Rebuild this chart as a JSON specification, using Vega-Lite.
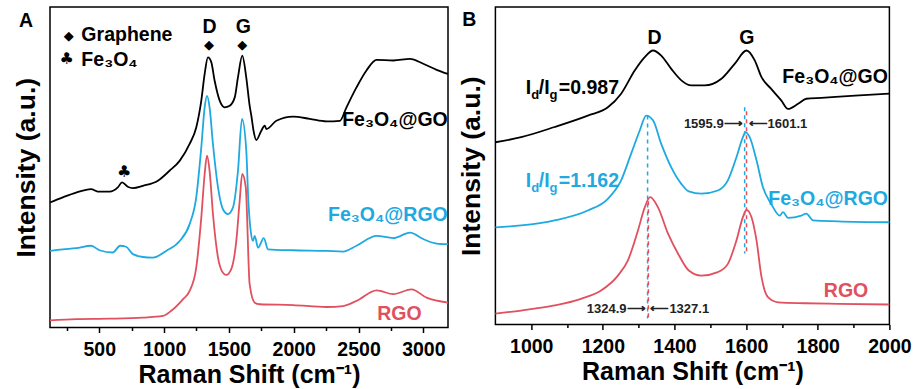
{
  "$schema": "https://vega.github.io/schema/vega-lite/v6.json",
  "background": "white",
  "padding": {"left": 12, "top": 6, "right": 5, "bottom": 0},
  "config": {
    "view": {"stroke": "#000", "strokeWidth": 1.5},
    "font": "Liberation Sans",
    "axis": {"grid": false, "domain": false, "labelFont": "Liberation Sans", "labelFontWeight": "bold", "labelFontSize": 19.5, "labelColor": "#000", "titleFont": "Liberation Sans", "titleFontWeight": "bold", "titleFontSize": 25, "titleColor": "#000", "tickColor": "#000", "tickWidth": 1.5},
    "axisX": {"tickSize": 5, "labelPadding": 8, "titlePadding": 3, "labelFlush": false, "labelOverlap": false},
    "axisY": {"ticks": false, "labels": false, "titlePadding": 9.5, "titleFontSize": 26.5},
    "text": {"font": "Liberation Sans", "fontWeight": "bold", "fontSize": 19.5}
  },
  "datasets": {
    "specA": [
      {"x":120,"y":39.0,"s":"Fe3O4@GO"},{"x":218,"y":40.6,"s":"Fe3O4@GO"},{"x":321,"y":42.1,"s":"Fe3O4@GO"},{"x":437,"y":43.2,"s":"Fe3O4@GO"},{"x":488,"y":42.4,"s":"Fe3O4@GO"},{"x":579,"y":42.4,"s":"Fe3O4@GO"},{"x":643,"y":43.7,"s":"Fe3O4@GO"},{"x":676,"y":45.3,"s":"Fe3O4@GO"},{"x":720,"y":43.9,"s":"Fe3O4@GO"},{"x":759,"y":43.5,"s":"Fe3O4@GO"},{"x":836,"y":44.2,"s":"Fe3O4@GO"},{"x":952,"y":45.8,"s":"Fe3O4@GO"},{"x":1042,"y":48.9,"s":"Fe3O4@GO"},{"x":1120,"y":52.0,"s":"Fe3O4@GO"},{"x":1197,"y":57.3,"s":"Fe3O4@GO"},{"x":1248,"y":62.4,"s":"Fe3O4@GO"},{"x":1287,"y":70.8,"s":"Fe3O4@GO"},{"x":1313,"y":79.1,"s":"Fe3O4@GO"},{"x":1338,"y":84.3,"s":"Fe3O4@GO"},{"x":1364,"y":82.8,"s":"Fe3O4@GO"},{"x":1390,"y":77.0,"s":"Fe3O4@GO"},{"x":1429,"y":70.8,"s":"Fe3O4@GO"},{"x":1467,"y":68.7,"s":"Fe3O4@GO"},{"x":1506,"y":69.2,"s":"Fe3O4@GO"},{"x":1545,"y":71.8,"s":"Fe3O4@GO"},{"x":1570,"y":78.1,"s":"Fe3O4@GO"},{"x":1603,"y":84.8,"s":"Fe3O4@GO"},{"x":1634,"y":78.0,"s":"Fe3O4@GO"},{"x":1660,"y":69.2,"s":"Fe3O4@GO"},{"x":1673,"y":66.1,"s":"Fe3O4@GO"},{"x":1690,"y":61.4,"s":"Fe3O4@GO"},{"x":1711,"y":58.5,"s":"Fe3O4@GO"},{"x":1750,"y":61.4,"s":"Fe3O4@GO"},{"x":1776,"y":63.0,"s":"Fe3O4@GO"},{"x":1789,"y":61.9,"s":"Fe3O4@GO"},{"x":1866,"y":64.5,"s":"Fe3O4@GO"},{"x":1995,"y":65.8,"s":"Fe3O4@GO"},{"x":2124,"y":65.1,"s":"Fe3O4@GO"},{"x":2252,"y":64.3,"s":"Fe3O4@GO"},{"x":2356,"y":64.5,"s":"Fe3O4@GO"},{"x":2407,"y":68.7,"s":"Fe3O4@GO"},{"x":2484,"y":74.9,"s":"Fe3O4@GO"},{"x":2561,"y":80.2,"s":"Fe3O4@GO"},{"x":2639,"y":83.5,"s":"Fe3O4@GO"},{"x":2768,"y":83.3,"s":"Fe3O4@GO"},{"x":2897,"y":83.8,"s":"Fe3O4@GO"},{"x":2999,"y":82.3,"s":"Fe3O4@GO"},{"x":3102,"y":80.4,"s":"Fe3O4@GO"},{"x":3190,"y":79.1,"s":"Fe3O4@GO"},
      {"x":120,"y":23.9,"s":"Fe3O4@RGO"},{"x":218,"y":24.4,"s":"Fe3O4@RGO"},{"x":321,"y":24.75,"s":"Fe3O4@RGO"},{"x":437,"y":25.5,"s":"Fe3O4@RGO"},{"x":502,"y":24.1,"s":"Fe3O4@RGO"},{"x":604,"y":23.4,"s":"Fe3O4@RGO"},{"x":661,"y":25.5,"s":"Fe3O4@RGO"},{"x":707,"y":25.2,"s":"Fe3O4@RGO"},{"x":759,"y":22.9,"s":"Fe3O4@RGO"},{"x":836,"y":22.0,"s":"Fe3O4@RGO"},{"x":913,"y":21.8,"s":"Fe3O4@RGO"},{"x":1016,"y":23.9,"s":"Fe3O4@RGO"},{"x":1120,"y":27.0,"s":"Fe3O4@RGO"},{"x":1197,"y":32.25,"s":"Fe3O4@RGO"},{"x":1248,"y":40.6,"s":"Fe3O4@RGO"},{"x":1287,"y":56.2,"s":"Fe3O4@RGO"},{"x":1313,"y":68.7,"s":"Fe3O4@RGO"},{"x":1331,"y":72.3,"s":"Fe3O4@RGO"},{"x":1351,"y":68.7,"s":"Fe3O4@RGO"},{"x":1377,"y":57.25,"s":"Fe3O4@RGO"},{"x":1416,"y":43.7,"s":"Fe3O4@RGO"},{"x":1454,"y":36.9,"s":"Fe3O4@RGO"},{"x":1493,"y":35.4,"s":"Fe3O4@RGO"},{"x":1531,"y":37.4,"s":"Fe3O4@RGO"},{"x":1570,"y":48.9,"s":"Fe3O4@RGO"},{"x":1601,"y":65.1,"s":"Fe3O4@RGO"},{"x":1634,"y":55.2,"s":"Fe3O4@RGO"},{"x":1650,"y":39.5,"s":"Fe3O4@RGO"},{"x":1670,"y":29.5,"s":"Fe3O4@RGO"},{"x":1686,"y":27.0,"s":"Fe3O4@RGO"},{"x":1699,"y":28.6,"s":"Fe3O4@RGO"},{"x":1725,"y":24.9,"s":"Fe3O4@RGO"},{"x":1769,"y":27.9,"s":"Fe3O4@RGO"},{"x":1802,"y":24.4,"s":"Fe3O4@RGO"},{"x":1995,"y":24.1,"s":"Fe3O4@RGO"},{"x":2252,"y":23.9,"s":"Fe3O4@RGO"},{"x":2381,"y":23.7,"s":"Fe3O4@RGO"},{"x":2484,"y":25.5,"s":"Fe3O4@RGO"},{"x":2639,"y":28.6,"s":"Fe3O4@RGO"},{"x":2768,"y":27.9,"s":"Fe3O4@RGO"},{"x":2897,"y":29.6,"s":"Fe3O4@RGO"},{"x":2999,"y":27.6,"s":"Fe3O4@RGO"},{"x":3102,"y":26.2,"s":"Fe3O4@RGO"},{"x":3190,"y":26.0,"s":"Fe3O4@RGO"},
      {"x":120,"y":2.25,"s":"RGO"},{"x":321,"y":2.6,"s":"RGO"},{"x":579,"y":2.75,"s":"RGO"},{"x":836,"y":3.1,"s":"RGO"},{"x":991,"y":3.6,"s":"RGO"},{"x":1055,"y":5.2,"s":"RGO"},{"x":1145,"y":8.8,"s":"RGO"},{"x":1197,"y":11.4,"s":"RGO"},{"x":1248,"y":18.7,"s":"RGO"},{"x":1287,"y":34.3,"s":"RGO"},{"x":1313,"y":47.9,"s":"RGO"},{"x":1331,"y":53.6,"s":"RGO"},{"x":1351,"y":48.9,"s":"RGO"},{"x":1377,"y":35.4,"s":"RGO"},{"x":1416,"y":21.8,"s":"RGO"},{"x":1454,"y":17.1,"s":"RGO"},{"x":1480,"y":16.4,"s":"RGO"},{"x":1518,"y":18.2,"s":"RGO"},{"x":1557,"y":27.0,"s":"RGO"},{"x":1583,"y":39.5,"s":"RGO"},{"x":1603,"y":47.9,"s":"RGO"},{"x":1630,"y":43.7,"s":"RGO"},{"x":1660,"y":13.5,"s":"RGO"},{"x":1699,"y":7.75,"s":"RGO"},{"x":1738,"y":7.25,"s":"RGO"},{"x":1995,"y":7.0,"s":"RGO"},{"x":2252,"y":6.4,"s":"RGO"},{"x":2381,"y":6.7,"s":"RGO"},{"x":2484,"y":8.3,"s":"RGO"},{"x":2639,"y":11.6,"s":"RGO"},{"x":2768,"y":10.4,"s":"RGO"},{"x":2909,"y":11.9,"s":"RGO"},{"x":3025,"y":9.3,"s":"RGO"},{"x":3190,"y":7.75,"s":"RGO"}
    ],
    "specB": [
      {"x":900,"y":57.4,"s":"Fe3O4@GO"},{"x":972,"y":59.0,"s":"Fe3O4@GO"},{"x":1065,"y":62.2,"s":"Fe3O4@GO"},{"x":1158,"y":65.8,"s":"Fe3O4@GO"},{"x":1214,"y":68.4,"s":"Fe3O4@GO"},{"x":1251,"y":72.7,"s":"Fe3O4@GO"},{"x":1289,"y":80.0,"s":"Fe3O4@GO"},{"x":1317,"y":84.2,"s":"Fe3O4@GO"},{"x":1340,"y":86.3,"s":"Fe3O4@GO"},{"x":1363,"y":84.7,"s":"Fe3O4@GO"},{"x":1391,"y":80.5,"s":"Fe3O4@GO"},{"x":1419,"y":76.9,"s":"Fe3O4@GO"},{"x":1447,"y":75.3,"s":"Fe3O4@GO"},{"x":1484,"y":75.3,"s":"Fe3O4@GO"},{"x":1531,"y":77.4,"s":"Fe3O4@GO"},{"x":1568,"y":82.1,"s":"Fe3O4@GO"},{"x":1601,"y":86.3,"s":"Fe3O4@GO"},{"x":1624,"y":83.2,"s":"Fe3O4@GO"},{"x":1643,"y":77.9,"s":"Fe3O4@GO"},{"x":1670,"y":74.2,"s":"Fe3O4@GO"},{"x":1698,"y":70.6,"s":"Fe3O4@GO"},{"x":1717,"y":67.9,"s":"Fe3O4@GO"},{"x":1745,"y":69.5,"s":"Fe3O4@GO"},{"x":1768,"y":71.1,"s":"Fe3O4@GO"},{"x":1810,"y":71.4,"s":"Fe3O4@GO"},{"x":1904,"y":72.1,"s":"Fe3O4@GO"},{"x":2000,"y":72.7,"s":"Fe3O4@GO"},
      {"x":900,"y":30.6,"s":"Fe3O4@RGO"},{"x":972,"y":31.2,"s":"Fe3O4@RGO"},{"x":1065,"y":32.8,"s":"Fe3O4@RGO"},{"x":1158,"y":35.9,"s":"Fe3O4@RGO"},{"x":1214,"y":39.6,"s":"Fe3O4@RGO"},{"x":1251,"y":45.4,"s":"Fe3O4@RGO"},{"x":1279,"y":53.8,"s":"Fe3O4@RGO"},{"x":1303,"y":61.1,"s":"Fe3O4@RGO"},{"x":1321,"y":65.8,"s":"Fe3O4@RGO"},{"x":1340,"y":64.3,"s":"Fe3O4@RGO"},{"x":1363,"y":56.9,"s":"Fe3O4@RGO"},{"x":1391,"y":49.5,"s":"Fe3O4@RGO"},{"x":1419,"y":44.3,"s":"Fe3O4@RGO"},{"x":1440,"y":41.9,"s":"Fe3O4@RGO"},{"x":1475,"y":41.2,"s":"Fe3O4@RGO"},{"x":1521,"y":42.2,"s":"Fe3O4@RGO"},{"x":1549,"y":45.4,"s":"Fe3O4@RGO"},{"x":1573,"y":52.7,"s":"Fe3O4@RGO"},{"x":1591,"y":59.0,"s":"Fe3O4@RGO"},{"x":1598,"y":60.6,"s":"Fe3O4@RGO"},{"x":1610,"y":59.0,"s":"Fe3O4@RGO"},{"x":1629,"y":51.7,"s":"Fe3O4@RGO"},{"x":1647,"y":43.2,"s":"Fe3O4@RGO"},{"x":1670,"y":38.0,"s":"Fe3O4@RGO"},{"x":1694,"y":34.3,"s":"Fe3O4@RGO"},{"x":1703,"y":35.4,"s":"Fe3O4@RGO"},{"x":1717,"y":33.6,"s":"Fe3O4@RGO"},{"x":1754,"y":34.3,"s":"Fe3O4@RGO"},{"x":1768,"y":34.9,"s":"Fe3O4@RGO"},{"x":1787,"y":32.8,"s":"Fe3O4@RGO"},{"x":1857,"y":32.5,"s":"Fe3O4@RGO"},{"x":2000,"y":32.2,"s":"Fe3O4@RGO"},
      {"x":900,"y":3.4,"s":"RGO"},{"x":972,"y":4.4,"s":"RGO"},{"x":1065,"y":6.0,"s":"RGO"},{"x":1139,"y":8.1,"s":"RGO"},{"x":1195,"y":10.7,"s":"RGO"},{"x":1242,"y":15.4,"s":"RGO"},{"x":1270,"y":20.2,"s":"RGO"},{"x":1298,"y":29.6,"s":"RGO"},{"x":1317,"y":36.9,"s":"RGO"},{"x":1332,"y":40.1,"s":"RGO"},{"x":1354,"y":36.9,"s":"RGO"},{"x":1382,"y":28.6,"s":"RGO"},{"x":1410,"y":22.3,"s":"RGO"},{"x":1440,"y":17.0,"s":"RGO"},{"x":1475,"y":15.4,"s":"RGO"},{"x":1521,"y":16.5,"s":"RGO"},{"x":1549,"y":19.1,"s":"RGO"},{"x":1573,"y":26.5,"s":"RGO"},{"x":1591,"y":33.8,"s":"RGO"},{"x":1601,"y":36.1,"s":"RGO"},{"x":1615,"y":33.8,"s":"RGO"},{"x":1629,"y":26.5,"s":"RGO"},{"x":1643,"y":14.9,"s":"RGO"},{"x":1661,"y":8.6,"s":"RGO"},{"x":1689,"y":7.0,"s":"RGO"},{"x":1764,"y":6.7,"s":"RGO"},{"x":1857,"y":6.5,"s":"RGO"},{"x":2000,"y":6.3,"s":"RGO"}
    ]
  },
  "bounds": "flush",
  "spacing": 47.4,
  "resolve": {"scale": {"x": "independent", "y": "independent"}},
  "hconcat": [
    {
      "width": 398,
      "height": 320.5,
      "resolve": {"axis": {"x": "independent"}},
      "layer": [
        {
          "data": {"name": "specA"},
          "mark": {"type": "line", "strokeWidth": 1.8, "interpolate": "monotone"},
          "encoding": {
            "x": {"field": "x", "type": "quantitative", "scale": {"domain": [120, 3190], "nice": false, "zero": false},
                  "axis": {"orient": "bottom", "title": "Raman Shift (cm⁻¹)", "values": [500,1000,1500,2000,2500,3000], "format": "d", "labelOverlap": false, "labelBound": false}},
            "y": {"field": "y", "type": "quantitative", "scale": {"domain": [0, 100], "nice": false, "zero": false}, "axis": {"title": "Intensity (a.u.)"}},
            "color": {"field": "s", "type": "nominal", "scale": {"domain": ["Fe3O4@GO", "Fe3O4@RGO", "RGO"], "range": ["#000000", "#1EA9E1", "#E0505E"]}, "legend": null}
          }
        },
        {
          "data": {"values": [{"x": -65, "y": 93.7, "t": "A"}, {"x": 1351, "y": 92.0, "t": "D"}, {"x": 1611, "y": 92.0, "t": "G"}]},
          "mark": {"type": "text", "align": "center", "baseline": "alphabetic", "color": "#000"},
          "encoding": {"x": {"field": "x", "type": "quantitative", "axis": {"orient": "bottom", "values": [250,750,1250,1750,2250,2750], "labels": false, "title": null, "tickSize": 3}}, "y": {"field": "y", "type": "quantitative"}, "text": {"field": "t"}}
        },
        {
          "data": {"values": [{"x": 264, "y": 91.1, "t": "◆"}, {"x": 1346, "y": 88.2, "t": "◆"}, {"x": 1603, "y": 88.2, "t": "◆"}]},
          "mark": {"type": "text", "align": "center", "baseline": "middle", "color": "#000", "font": "DejaVu Sans", "fontSize": 13},
          "encoding": {"x": {"field": "x", "type": "quantitative", "axis": null}, "y": {"field": "y", "type": "quantitative"}, "text": {"field": "t"}}
        },
        {
          "data": {"values": [{"x": 249, "y": 83.8, "t": "♣"}, {"x": 692, "y": 48.4, "t": "♣"}]},
          "mark": {"type": "text", "align": "center", "baseline": "middle", "color": "#000", "font": "DejaVu Sans", "fontSize": 16},
          "encoding": {"x": {"field": "x", "type": "quantitative", "axis": null}, "y": {"field": "y", "type": "quantitative"}, "text": {"field": "t"}}
        },
        {
          "data": {"values": [{"x": 362, "y": 89.5, "t": "Graphene"}, {"x": 362, "y": 81.5, "t": "Fe₃O₄"}]},
          "mark": {"type": "text", "align": "left", "baseline": "alphabetic", "color": "#000"},
          "encoding": {"x": {"field": "x", "type": "quantitative", "axis": null}, "y": {"field": "y", "type": "quantitative"}, "text": {"field": "t"}}
        },
        {
          "data": {"values": [{"x": 3188, "y": 63.0, "t": "Fe₃O₄@GO", "s": "Fe3O4@GO"}, {"x": 3188, "y": 33.1, "t": "Fe₃O₄@RGO", "s": "Fe3O4@RGO"}, {"x": 2986, "y": 2.25, "t": "RGO", "s": "RGO"}]},
          "mark": {"type": "text", "align": "right", "baseline": "alphabetic"},
          "encoding": {"x": {"field": "x", "type": "quantitative", "axis": null}, "y": {"field": "y", "type": "quantitative"}, "text": {"field": "t"},
            "color": {"field": "s", "type": "nominal", "scale": {"domain": ["Fe3O4@GO", "Fe3O4@RGO", "RGO"], "range": ["#000000", "#1EA9E1", "#E0505E"]}, "legend": null}}
        }
      ]
    },
    {
      "width": 394,
      "height": 317.5,
      "resolve": {"axis": {"x": "independent"}},
      "layer": [
        {
          "data": {"values": [{"x": 1595.9, "y": 68.4, "y2": 22.4}, {"x": 1324.9, "y": 65.8, "y2": 1.9}]},
          "mark": {"type": "rule", "color": "#1EA9E1", "strokeWidth": 1.5, "strokeDash": [4, 4]},
          "encoding": {"x": {"field": "x", "type": "quantitative", "axis": null}, "y": {"field": "y", "type": "quantitative"}, "y2": {"field": "y2"}}
        },
        {
          "data": {"values": [{"x": 1601.1, "y": 68.4, "y2": 22.4}, {"x": 1327.1, "y": 40.1, "y2": 1.9}]},
          "mark": {"type": "rule", "color": "#E0505E", "strokeWidth": 1.5, "strokeDash": [4, 4], "strokeDashOffset": 4},
          "encoding": {"x": {"field": "x", "type": "quantitative", "axis": null}, "y": {"field": "y", "type": "quantitative"}, "y2": {"field": "y2"}}
        },
        {
          "data": {"name": "specB"},
          "mark": {"type": "line", "strokeWidth": 1.8, "interpolate": "monotone"},
          "encoding": {
            "x": {"field": "x", "type": "quantitative", "scale": {"domain": [900, 2000], "nice": false, "zero": false},
                  "axis": {"orient": "bottom", "title": "Raman Shift (cm⁻¹)", "values": [1000,1200,1400,1600,1800,2000], "format": "d", "labelOverlap": false, "labelBound": false}},
            "y": {"field": "y", "type": "quantitative", "scale": {"domain": [0, 100], "nice": false, "zero": false}, "axis": {"title": "Intensity (a.u.)"}},
            "color": {"field": "s", "type": "nominal", "scale": {"domain": ["Fe3O4@GO", "Fe3O4@RGO", "RGO"], "range": ["#000000", "#1EA9E1", "#E0505E"]}, "legend": null}
          }
        },
        {
          "data": {"values": [{"x": 827, "y": 93.9, "t": "B"}, {"x": 1344.5, "y": 88.4, "t": "D"}, {"x": 1601.7, "y": 88.4, "t": "G"}]},
          "mark": {"type": "text", "align": "center", "baseline": "alphabetic", "color": "#000"},
          "encoding": {"x": {"field": "x", "type": "quantitative", "axis": {"orient": "bottom", "values": [1100,1300,1500,1700,1900], "labels": false, "title": null, "tickSize": 3}}, "y": {"field": "y", "type": "quantitative"}, "text": {"field": "t"}}
        },
        {
          "data": {"values": [{"x": 1996, "y": 76.0, "t": "Fe₃O₄@GO", "s": "Fe3O4@GO"}, {"x": 1996, "y": 37.5, "t": "Fe₃O₄@RGO", "s": "Fe3O4@RGO"}, {"x": 1941, "y": 8.8, "t": "RGO", "s": "RGO"}]},
          "mark": {"type": "text", "align": "right", "baseline": "alphabetic"},
          "encoding": {"x": {"field": "x", "type": "quantitative", "axis": null}, "y": {"field": "y", "type": "quantitative"}, "text": {"field": "t"},
            "color": {"field": "s", "type": "nominal", "scale": {"domain": ["Fe3O4@GO", "Fe3O4@RGO", "RGO"], "range": ["#000000", "#1EA9E1", "#E0505E"]}, "legend": null}}
        },
        {
          "data": {"values": [
            {"x": 984.7, "y": 72.5, "t": "I", "s": "Fe3O4@GO"}, {"x": 1021.1, "y": 72.5, "t": "/I", "s": "Fe3O4@GO"}, {"x": 1077, "y": 72.5, "t": "=0.987", "s": "Fe3O4@GO"},
            {"x": 984.7, "y": 43.2, "t": "I", "s": "Fe3O4@RGO"}, {"x": 1021.1, "y": 43.2, "t": "/I", "s": "Fe3O4@RGO"}, {"x": 1077, "y": 43.2, "t": "=1.162", "s": "Fe3O4@RGO"}]},
          "mark": {"type": "text", "align": "left", "baseline": "alphabetic"},
          "encoding": {"x": {"field": "x", "type": "quantitative", "axis": null}, "y": {"field": "y", "type": "quantitative"}, "text": {"field": "t"},
            "color": {"field": "s", "type": "nominal", "scale": {"domain": ["Fe3O4@GO", "Fe3O4@RGO", "RGO"], "range": ["#000000", "#1EA9E1", "#E0505E"]}, "legend": null}}
        },
        {
          "data": {"values": [
            {"x": 1000.1, "y": 70.9, "t": "d", "s": "Fe3O4@GO"}, {"x": 1051, "y": 70.9, "t": "g", "s": "Fe3O4@GO"},
            {"x": 1000.1, "y": 41.7, "t": "d", "s": "Fe3O4@RGO"}, {"x": 1051, "y": 41.7, "t": "g", "s": "Fe3O4@RGO"}]},
          "mark": {"type": "text", "align": "left", "baseline": "alphabetic", "fontSize": 13},
          "encoding": {"x": {"field": "x", "type": "quantitative", "axis": null}, "y": {"field": "y", "type": "quantitative"}, "text": {"field": "t"},
            "color": {"field": "s", "type": "nominal", "scale": {"domain": ["Fe3O4@GO", "Fe3O4@RGO", "RGO"], "range": ["#000000", "#1EA9E1", "#E0505E"]}, "legend": null}}
        },
        {
          "data": {"values": [{"x": 1595.9, "y": 62.0, "t": "1595.9⟶"}, {"x": 1324.9, "y": 3.6, "t": "1324.9⟶"}]},
          "mark": {"type": "text", "align": "right", "baseline": "alphabetic", "fontSize": 13, "dx": -2, "color": "#222"},
          "encoding": {"x": {"field": "x", "type": "quantitative", "axis": null}, "y": {"field": "y", "type": "quantitative"}, "text": {"field": "t"}}
        },
        {
          "data": {"values": [{"x": 1601.1, "y": 62.0, "t": "⟵1601.1"}, {"x": 1327.1, "y": 3.6, "t": "⟵1327.1"}]},
          "mark": {"type": "text", "align": "left", "baseline": "alphabetic", "fontSize": 13, "dx": 2, "color": "#222"},
          "encoding": {"x": {"field": "x", "type": "quantitative", "axis": null}, "y": {"field": "y", "type": "quantitative"}, "text": {"field": "t"}}
        }
      ]
    }
  ]
}
